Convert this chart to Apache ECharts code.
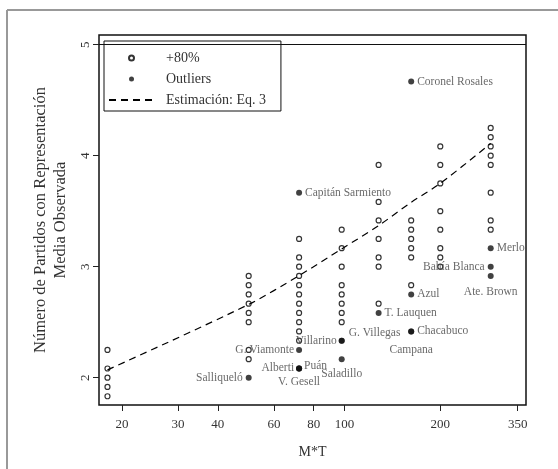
<!DOCTYPE html>
<html>
<head>
<meta charset="utf-8">
<script src="https://cdn.jsdelivr.net/npm/echarts@6/dist/echarts.min.js"></script>
<style>
  html, body { margin: 0; padding: 0; background: #fff; }
  #chart { width: 558px; height: 469px; }
</style>
</head>
<body>
<div id="chart"></div>
<script>
// M*T values (district magnitude times number of lists)
const mtValues = [18, 50, 72, 98, 128, 162, 200, 288];

// Observed mean number of parties with representation, districts with +80% coverage
const observed18  = [2.25, 2.083, 2.0, 1.917, 1.833];
const observed50  = [2.917, 2.833, 2.75, 2.667, 2.583, 2.5, 2.25, 2.167];
const observed72  = [3.25, 3.083, 3.0, 2.917, 2.833, 2.75, 2.667, 2.583, 2.5, 2.417, 2.333];
const observed98  = [3.333, 3.167, 3.0, 2.833, 2.75, 2.667, 2.583, 2.5];
const observed128 = [3.917, 3.583, 3.417, 3.25, 3.083, 3.0, 2.667];
const observed162 = [3.417, 3.333, 3.25, 3.167, 3.083, 2.833];
const observed200 = [4.083, 3.917, 3.75, 3.5, 3.333, 3.167, 3.083, 3.0];
const observed288 = [4.25, 4.167, 4.083, 4.0, 3.917, 3.667, 3.417, 3.333];
const observedByMt = [observed18, observed50, observed72, observed98,
                      observed128, observed162, observed200, observed288];

// Outlier districts
const outlierNames = ['Coronel Rosales', 'Capitán Sarmiento', 'Merlo', 'Bahía Blanca',
  'Ate. Brown', 'Azul', 'T. Lauquen', 'Chacabuco', 'Campana', 'G. Villegas',
  'Villarino', 'Saladillo', 'G. Viamonte', 'Alberti', 'Puán', 'V. Gesell', 'Salliqueló'];
const outlierMt = [162, 72, 288, 288, 288, 162, 128, 162, 162, 98, 98, 98, 72, 72, 72, 72, 50];
const outlierMean = [4.667, 3.667, 3.167, 3.0, 2.917, 2.75, 2.583, 2.417, 2.417, 2.333,
  2.333, 2.167, 2.25, 2.083, 2.083, 2.083, 2.0];

// Estimated curve (Eq. 3) at each M*T value
const estimateEq3 = [2.07, 2.66, 2.92, 3.16, 3.37, 3.58, 3.75, 4.11];

// Axis ticks
const xTicks = [20, 30, 40, 60, 80, 100, 200, 350];
const yTicks = [2, 3, 4, 5];

// Where each outlier's name sits relative to its point
const labelPlacement = {
  'Bahía Blanca': { position: 'left' },
  'Ate. Brown': { position: 'bottom', distance: 7 },
  'Campana': { position: 'bottom', distance: 10 },
  'G. Villegas': { position: 'right', distance: 4 },
  'Villarino': { position: 'left', distance: 2 },
  'Saladillo': { position: 'bottom', distance: 6 },
  'G. Viamonte': { position: 'left', distance: 2 },
  'Alberti': { position: 'left', distance: 2 },
  'Puán': { position: 'right', distance: 2 },
  'V. Gesell': { position: 'bottom', distance: 5 },
  'Salliqueló': { position: 'left' }
};
// Vertical nudges for names that sit above their point
const labelLift = { 'G. Villegas': -8, 'Puán': -2 };

const serif = '"Liberation Serif", "DejaVu Serif", serif';

const hollowData = [];
mtValues.forEach((mt, i) => observedByMt[i].forEach(v => hollowData.push([mt, v])));

const outlierData = outlierNames.map((name, i) => ({
  name: name,
  value: [outlierMt[i], outlierMean[i]],
  label: Object.assign({ position: 'right', distance: 3 }, labelPlacement[name] || {})
}));

const chart = echarts.init(document.getElementById('chart'), null, { renderer: 'canvas' });

chart.setOption({
  animation: false,
  backgroundColor: '#fff',
  grid: {
    left: 99, right: 32, top: 35, bottom: 64,
    show: true, borderColor: '#111', borderWidth: 1.5, backgroundColor: 'transparent'
  },
  xAxis: {
    type: 'log', logBase: 10, min: 16.93, max: 371.8,
    name: 'M*T', nameLocation: 'middle', nameGap: 40,
    nameTextStyle: { fontFamily: serif, fontSize: 14, color: '#333' },
    axisLine: { show: false },
    axisTick: { show: true, length: 6, customValues: xTicks, lineStyle: { color: '#222', width: 1 } },
    axisLabel: { customValues: xTicks, margin: 13, fontFamily: serif, fontSize: 13, color: '#333' },
    splitLine: { show: false }, minorTick: { show: false }
  },
  yAxis: {
    type: 'value', min: 1.754, max: 5.087,
    name: 'Número de Partidos con Representación\nMedia Observada',
    nameLocation: 'middle', nameRotate: 90, nameGap: 28,
    nameTextStyle: { fontFamily: serif, fontSize: 16.5, color: '#333', lineHeight: 20 },
    axisLine: { show: false },
    axisTick: { show: true, length: 6, customValues: yTicks, lineStyle: { color: '#222', width: 1 } },
    axisLabel: { customValues: yTicks, rotate: 90, margin: 7, fontFamily: serif, fontSize: 13, color: '#333' },
    splitLine: { show: false }
  },
  legend: {
    orient: 'vertical', left: 104, top: 41,
    data: [
      { name: '+80%' },
      { name: 'Outliers' },
      { name: 'Estimación: Eq. 3', itemStyle: { opacity: 0 } }
    ],
    itemWidth: 45, itemHeight: 5, itemGap: 7,
    padding: [10, 15, 4, 4],
    borderColor: '#111', borderWidth: 1, backgroundColor: '#fff',
    textStyle: { fontFamily: serif, fontSize: 14, color: '#333', padding: [0, 0, 0, 7] }
  },
  series: [
    {
      name: '+80%', type: 'scatter', data: hollowData,
      symbol: 'circle', symbolSize: 5,
      itemStyle: { color: '#fff', borderColor: '#000', borderWidth: 1.2 }
    },
    {
      name: 'Outliers', type: 'scatter', data: outlierData,
      symbol: 'circle', symbolSize: 6,
      itemStyle: { color: '#111', borderColor: '#111', borderWidth: 0 },
      label: {
        show: true, formatter: '{b}',
        fontFamily: serif, fontSize: 11.5, color: '#444'
      },
      labelLayout: function (params) {
        const lift = labelLift[outlierNames[params.dataIndex]];
        return lift ? { dy: lift, hideOverlap: false } : { hideOverlap: false };
      }
    },
    {
      name: 'Estimación: Eq. 3', type: 'line',
      data: mtValues.map((mt, i) => [mt, estimateEq3[i]]),
      smooth: 0.3, showSymbol: false, symbol: 'none',
      lineStyle: { color: '#000', width: 1.2, type: [7, 5] },
      itemStyle: { color: '#000' },
      z: 3,
      markLine: {
        silent: true, symbol: 'none', label: { show: false },
        lineStyle: { color: '#111', width: 1, type: 'solid' },
        data: [{ yAxis: 5 }]
      }
    }
  ],
  graphic: [
    { type: 'line', shape: { x1: 7, y1: 10, x2: 558, y2: 10 }, style: { stroke: '#999', lineWidth: 2 } },
    { type: 'line', shape: { x1: 7, y1: 10, x2: 7, y2: 469 }, style: { stroke: '#999', lineWidth: 2 } }
  ]
});
</script>
</body>
</html>
